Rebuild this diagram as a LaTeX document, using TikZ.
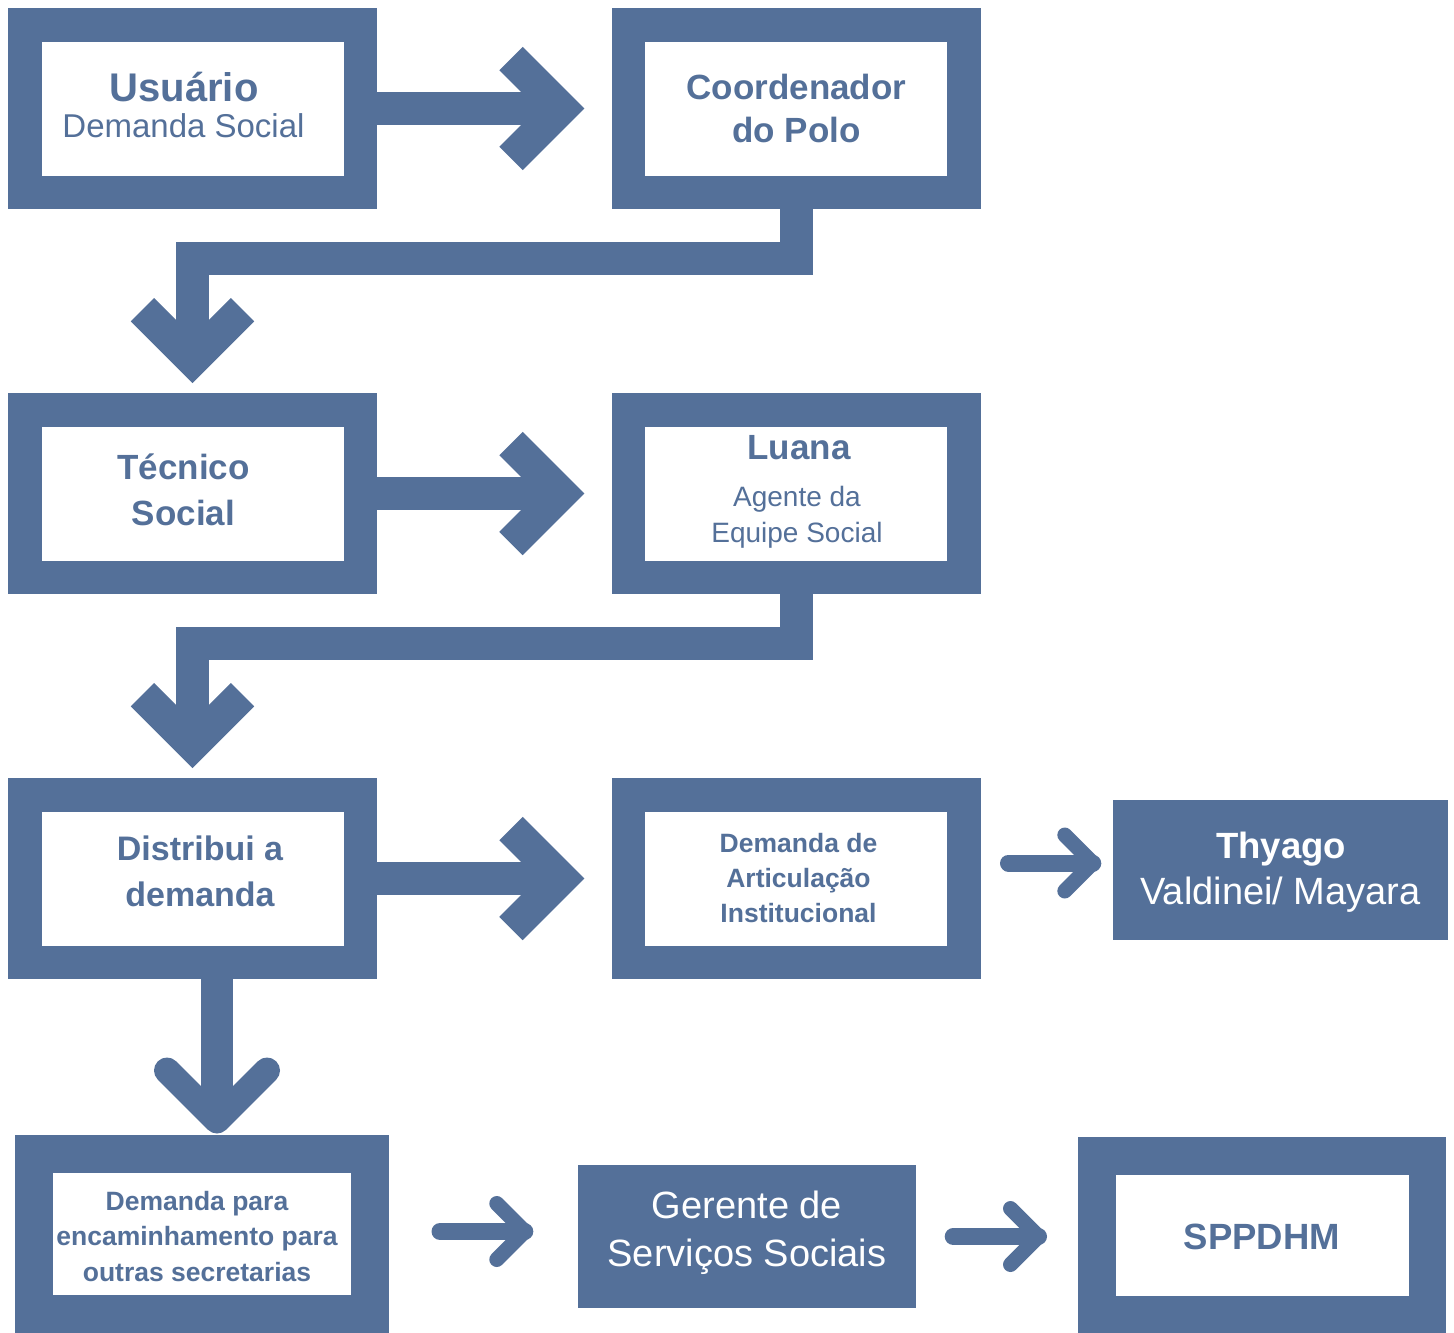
\documentclass[tikz,border=0pt]{standalone}
\usepackage{fontspec}
\setmainfont{Liberation Sans}
\usepackage{xcolor}
\usepackage{tikz}
\usetikzlibrary{calc}
\definecolor{flowblue}{RGB}{84,112,153}
\tikzset{
    frame/.style={rectangle, draw=flowblue, fill=white, line width=33.5pt, minimum width=335.5pt, minimum height=167.5pt, inner sep=0pt},
    bluebox/.style={rectangle, fill=flowblue, inner sep=0pt},
    shaft/.style={draw=flowblue, line width=33pt, line cap=butt, line join=miter},
    chevron/.style={draw=flowblue, line width=33pt, line cap=butt, line join=miter},
    dropshaft/.style={draw=flowblue, line width=32pt, line cap=butt},
    dropchev/.style={draw=flowblue, line width=26pt, line cap=round, line join=round},
    thinshaft/.style={draw=flowblue, line width=17pt, line cap=round},
    thinchev/.style={draw=flowblue, line width=15pt, line cap=round, line join=round},
    boxtext/.style={text=flowblue, align=center},
    whitetext/.style={text=white, align=center}
}
\begin{document}
\begin{tikzpicture}[x=1pt, y=-1pt]
    \useasboundingbox (0,0) rectangle (1454,1333);

    % Row 1
    \node[frame] (usuario) at (192.5,108.5) {};
    \node[frame] (coord) at (796,108.5) {};
    \node[boxtext, anchor=base, font=\bfseries\fontsize{40}{48}\selectfont] (usuarioTitle) at (184,101) {Usuário};
    \node[boxtext, anchor=base, font=\fontsize{33}{40}\selectfont] (usuarioSub) at (183.5,137) {Demanda Social};
    \node[boxtext, font=\bfseries\fontsize{35}{43}\selectfont] (coordText) at (796.5,108.5) {Coordenador\\do Polo};

    % Row 2
    \node[frame] (tecnico) at (192.5,493.5) {};
    \node[frame] (luana) at (796,493.5) {};
    \node[boxtext, font=\bfseries\fontsize{35}{46}\selectfont] (tecnicoText) at (183.5,489.4) {Técnico\\Social};
    \node[boxtext, anchor=base, font=\bfseries\fontsize{35}{43}\selectfont] (luanaTitle) at (799,459.5) {Luana};
    \node[boxtext, font=\fontsize{28}{36}\selectfont] (luanaSub) at (797,516.8) {Agente da\\Equipe Social};

    % Row 3
    \node[frame] (distribui) at (192.5,878.5) {};
    \node[frame] (artic) at (796,878.5) {};
    \node[bluebox, minimum width=335pt, minimum height=140pt] (thyago) at (1280.5,870) {};
    \node[boxtext, font=\bfseries\fontsize{34}{46}\selectfont] (distribuiText) at (200,871.6) {Distribui a\\demanda};
    \node[boxtext, font=\bfseries\fontsize{26.5}{35}\selectfont] (articText) at (798.5,877.9) {Demanda de\\Articulação\\Institucional};
    \node[whitetext, anchor=base, font=\bfseries\fontsize{36.5}{44}\selectfont] (thyagoTitle) at (1281,858) {Thyago};
    \node[whitetext, anchor=base, font=\fontsize{38}{46}\selectfont] (thyagoSub) at (1280.5,904.5) {Valdinei/ Mayara};

    % Row 4
    \node[frame, line width=38pt, minimum width=336pt, minimum height=160pt] (sec) at (202,1234) {};
    \node[bluebox, minimum width=338pt, minimum height=143pt] (gerente) at (747,1236.5) {};
    \node[frame, line width=37.5pt, minimum width=330.5pt, minimum height=158.5pt] (spp) at (1262,1235) {};
    \node[boxtext, font=\bfseries\fontsize{26.5}{35.5}\selectfont] (secText) at (197,1236.4) {Demanda para\\encaminhamento para\\outras secretarias};
    \node[whitetext, font=\fontsize{38}{48}\selectfont] (gerenteText) at (747,1233) {Gerente de\\Serviços Sociais};
    \node[boxtext, anchor=base, font=\bfseries\fontsize{36.5}{44}\selectfont] (sppText) at (1262,1249) {SPPDHM};

    % Right arrows
    \draw[shaft, shorten >=60pt] (usuario.east) -- (coord.west);
    \draw[chevron] ($(coord.west)+(-100.5,-50)$) -- ++(50,50) -- ++(-50,50);
    \draw[shaft, shorten >=60pt] (tecnico.east) -- (luana.west);
    \draw[chevron] ($(luana.west)+(-100.5,-50)$) -- ++(50,50) -- ++(-50,50);
    \draw[shaft, shorten >=60pt] (distribui.east) -- (artic.west);
    \draw[chevron] ($(artic.west)+(-100.5,-50)$) -- ++(50,50) -- ++(-50,50);

    % Elbow arrows
    \draw[shaft, shorten >=30pt] (coord.south) -- ++(0,49.5) -| (tecnico.north);
    \draw[chevron] ($(tecnico.north)+(-50,-83.3)$) -- ++(50,50) -- ++(50,-50);
    \draw[shaft, shorten >=30pt] (luana.south) -- ++(0,49.5) -| (distribui.north);
    \draw[chevron] ($(distribui.north)+(-50,-83.3)$) -- ++(50,50) -- ++(50,-50);

    % Down to row 4
    \draw[dropshaft, shorten >=25pt] ([xshift=24.5pt]distribui.south) -- ([xshift=15pt]sec.north);
    \draw[dropchev] ($(sec.north)+(-35,-64.5)$) -- ++(50,50) -- ++(50,-50);

    % Small arrows
    \draw[thinshaft] ($(artic.east)+(28,-15.5)$) -- ($(thyago.west)+(-20,-7)$);
    \draw[thinchev] ($(thyago.west)+(-48,-35)$) -- ++(28,28) -- ++(-28,28);
    \draw[thinshaft] ($(sec.east)+(51,-2.5)$) -- ($(gerente.west)+(-53,-5)$);
    \draw[thinchev] ($(gerente.west)+(-81,-33)$) -- ++(28,28) -- ++(-28,28);
    \draw[thinshaft] ($(gerente.east)+(37,0)$) -- ($(spp.west)+(-39.5,1.5)$);
    \draw[thinchev] ($(spp.west)+(-67.5,-26.5)$) -- ++(28,28) -- ++(-28,28);
\end{tikzpicture}
\end{document}
